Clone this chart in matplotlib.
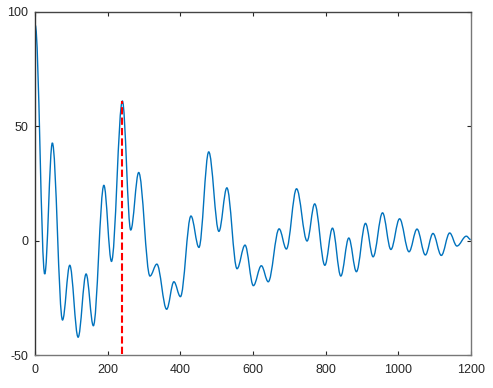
import matplotlib
matplotlib.use("Agg")
import matplotlib.pyplot as plt
from matplotlib.path import Path
from matplotlib.patches import PathPatch

# Extrema of the curve (lag, value)
lag = [0, 26, 47, 75, 95, 118, 140, 160, 189, 210, 240, 263, 285, 316, 335, 362,
       382, 400, 429, 451, 478, 506, 528, 556, 578, 601, 623, 642, 672, 692, 720,
       749, 770, 798, 819, 842, 864, 885, 910, 931, 957, 980, 1004, 1030, 1052,
       1075, 1096, 1119, 1142, 1162, 1188, 1200]
value = [94, -14.5, 42.7, -34.6, -10.7, -42.1, -14.5, -37.1, 24.2, -9.0, 61.0, 4.7,
         29.8, -15.4, -10.2, -29.9, -17.9, -24.4, 10.8, -2.9, 38.8, 4.1, 23.1, -12.2,
         -1.9, -19.6, -10.9, -17.9, 5.2, -3.6, 22.7, -0.1, 16.1, -10.7, 5.5, -15.4,
         1.2, -13.5, 7.6, -7.0, 12.2, -3.8, 9.6, -4.8, 5.1, -6.2, 3.2, -6.4, 3.4,
         -2.3, 2.0, 0.5]

peak_lag = 240
peak_value = 61.0

xticks = [0, 200, 400, 600, 800, 1000, 1200]
yticks = [-50, 0, 50, 100]

plt.rcParams['font.family'] = ['Liberation Sans', 'DejaVu Sans']
plt.rcParams['axes.unicode_minus'] = False

fig = plt.figure(figsize=(4.93, 3.88), dpi=100)
ax = fig.add_axes([0.0716, 0.0843, 0.8832, 0.8855])

# smooth curve through the extrema (horizontal tangents at each extremum)
verts = [(lag[0], value[0])]
codes = [Path.MOVETO]
k = 0.36
for i in range(len(lag) - 1):
    x0, y0, x1, y1 = lag[i], value[i], lag[i + 1], value[i + 1]
    dx = x1 - x0
    verts += [(x0 + k * dx, y0), (x1 - k * dx, y1), (x1, y1)]
    codes += [Path.CURVE4] * 3
ax.add_patch(PathPatch(Path(verts, codes), fill=False, edgecolor='#0072BD', lw=1.0))

ax.plot([peak_lag, peak_lag], [-49.5, peak_value], color='red', ls=(0, (3.5, 1.5)), lw=1.5)

ax.set_xlim(0, 1200)
ax.set_ylim(-50, 100)
ax.set_xticks(xticks)
ax.set_yticks(yticks)
ax.tick_params(direction='in', length=3, width=0.8, top=True, right=True,
               labelsize=9, colors='#262626', pad=5)
ax.tick_params(axis='x', pad=6.5)
for s in ax.spines.values():
    s.set_linewidth(1.0)
ax.spines['left'].set_color('#333333')
ax.spines['top'].set_color('#444444')
ax.spines['bottom'].set_color('#777777')
ax.spines['right'].set_color('#777777')

fig.savefig('out.png', dpi=100)
